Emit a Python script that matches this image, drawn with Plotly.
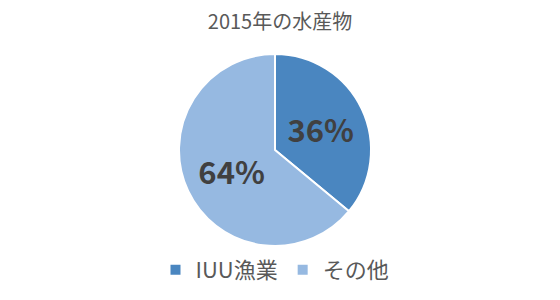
import plotly.graph_objects as go

categories = ["IUU漁業", "その他"]
values = [36, 64]
colors = ["#4A86C0", "#96B9E1"]
title_text = "2015年の水産物"

fig = go.Figure(go.Pie(
    labels=categories,
    values=values,
    sort=False,
    direction="clockwise",
    rotation=0,
    marker=dict(colors=colors, line=dict(color="white", width=2)),
    texttemplate="%{percent:.0%}",
    textposition="inside",
    insidetextorientation="horizontal",
    textfont=dict(family="Noto Sans CJK JP", size=31, color="#404040", weight="bold"),
    hoverinfo="label+percent",
))

fig.update_layout(
    width=560, height=300,
    paper_bgcolor="white", plot_bgcolor="white",
    margin=dict(l=0, r=10, t=54, b=54),
    title=dict(text=title_text, x=0.5, xanchor="center", y=1 - 22/300, yanchor="middle",
               font=dict(family="Noto Sans CJK JP", size=20, color="#595959")),
    legend=dict(orientation="h", x=0.5, xanchor="center", yref="container", y=1 - 270/300,
                yanchor="middle", itemwidth=30,
                font=dict(family="Noto Sans CJK JP", size=22, color="#595959")),
    font=dict(family="Noto Sans CJK JP"),
)

fig.write_html("out.html")
